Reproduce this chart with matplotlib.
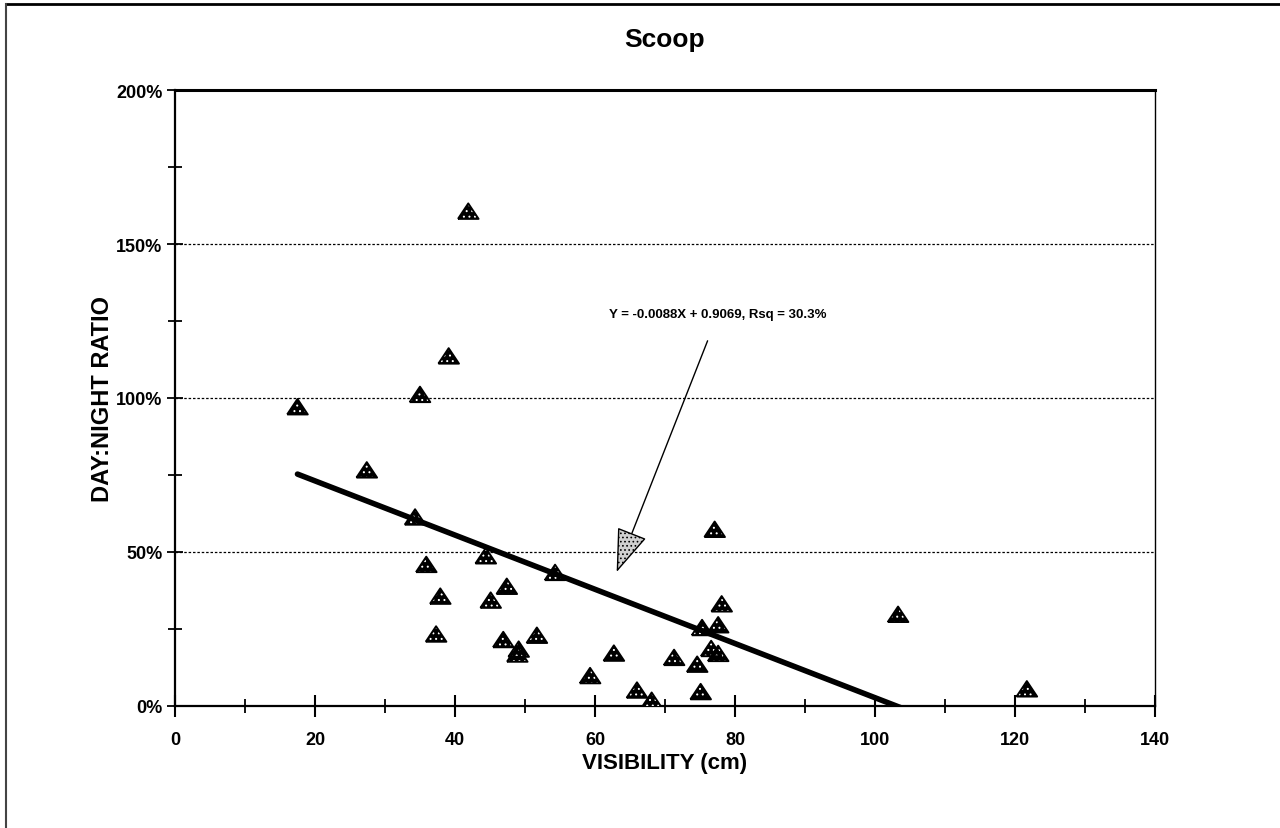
import matplotlib
matplotlib.use("Agg")
import matplotlib.pyplot as plt
from matplotlib.lines import Line2D
from matplotlib.ticker import MultipleLocator, PercentFormatter

plt.rcParams["font.family"] = ["Liberation Sans", "DejaVu Sans"]
plt.rcParams["font.weight"] = "bold"
plt.rcParams["hatch.linewidth"] = 0.7

# visibility (cm) and day:night catch ratio for each sample
visibility = [17.5, 27.4, 35.0, 39.1, 41.9, 34.3, 35.9, 37.9, 37.3, 44.4,
              45.1, 47.4, 46.9, 49.1, 48.9, 51.7, 54.3, 59.3, 62.7, 66.0,
              68.1, 71.3, 74.6, 75.1, 75.3, 76.6, 77.6, 77.6, 78.1, 77.1,
              103.3, 121.7]
ratio = [0.97, 0.765, 1.01, 1.135, 1.605, 0.612, 0.458, 0.355, 0.232, 0.486,
         0.342, 0.387, 0.214, 0.183, 0.167, 0.228, 0.432, 0.097, 0.17, 0.05,
         0.017, 0.156, 0.134, 0.045, 0.253, 0.185, 0.169, 0.262, 0.33, 0.572,
         0.296, 0.054]

slope = -0.0088
intercept = 0.9069
rsq = 30.3

fig = plt.figure(figsize=(12.8, 8.29), dpi=100)
ax = fig.add_axes([0.1367, 0.1472, 0.7656, 0.743])

# stippled triangles: black body with small white dots, then a crisp outline
tri = [(-1.0, -0.7), (1.0, -0.7), (0.0, 0.8), (-1.0, -0.7)]
ax.scatter(visibility, ratio, marker=tri, s=220, facecolor="black",
           edgecolor="white", hatch="...", linewidths=0, zorder=3)
ax.scatter(visibility, ratio, marker=tri, s=220, facecolor="none",
           edgecolor="black", linewidths=1.4, zorder=4)

# fitted line over the data range
x_fit = [min(visibility), max(visibility)]
y_fit = [slope * x + intercept for x in x_fit]
ax.plot(x_fit, y_fit, color="black", lw=4.0, solid_capstyle="round", zorder=5)

ax.annotate(f"Y = {slope:.4f}X + {intercept:.4f}, Rsq = {rsq}%",
            xy=(63.1, 0.435), xytext=(77.6, 1.273),
            ha="center", va="center", fontsize=9.5, fontweight="bold",
            arrowprops=dict(arrowstyle="-|>,head_length=2.8,head_width=1.0",
                            mutation_scale=10, lw=1, fc="#d0d0d0", ec="black",
                            hatch="....", shrinkA=14, shrinkB=0),
            zorder=6)

ax.set_xlim(0, 140)
ax.set_ylim(0, 2.0)
ax.xaxis.set_major_locator(MultipleLocator(20))
ax.xaxis.set_minor_locator(MultipleLocator(10))
ax.yaxis.set_major_locator(MultipleLocator(0.5))
ax.yaxis.set_minor_locator(MultipleLocator(0.25))
ax.yaxis.set_major_formatter(PercentFormatter(1.0, decimals=0))

ax.tick_params(axis="x", which="major", direction="inout", length=16, width=1.5,
               pad=10, labelsize=13)
ax.tick_params(axis="x", which="minor", direction="inout", length=10, width=1.3)
ax.tick_params(axis="y", which="major", direction="inout", length=12, width=1.3,
               pad=3, labelsize=13)
ax.tick_params(axis="y", which="minor", direction="inout", length=10, width=1.3)
for lbl in ax.get_xticklabels() + ax.get_yticklabels():
    lbl.set_fontweight("bold")

for y in (0.5, 1.0, 1.5):
    ax.axhline(y, color="black", lw=0.9, ls=(0, (2, 1.5)), zorder=1)

ax.spines["top"].set_linewidth(2.2)
ax.spines["left"].set_linewidth(1.6)
ax.spines["bottom"].set_linewidth(1.6)
ax.spines["right"].set_linewidth(1.0)

ax.set_title("Scoop", fontsize=19, fontweight="bold", pad=32)
ax.set_xlabel("VISIBILITY (cm)", fontsize=16, fontweight="bold", labelpad=3)
ax.set_ylabel("DAY:NIGHT RATIO", fontsize=17, fontweight="bold")
ax.yaxis.set_label_coords(-0.062, 0.5)

# page frame along the top and left edges
fig.add_artist(Line2D([6 / 1280, 1.0], [1 - 5 / 829, 1 - 5 / 829],
                      color="black", lw=2, transform=fig.transFigure))
fig.add_artist(Line2D([6 / 1280, 6 / 1280], [0.0, 1 - 5 / 829],
                      color="#444444", lw=1.5, transform=fig.transFigure))

fig.savefig("out.png", dpi=100)
